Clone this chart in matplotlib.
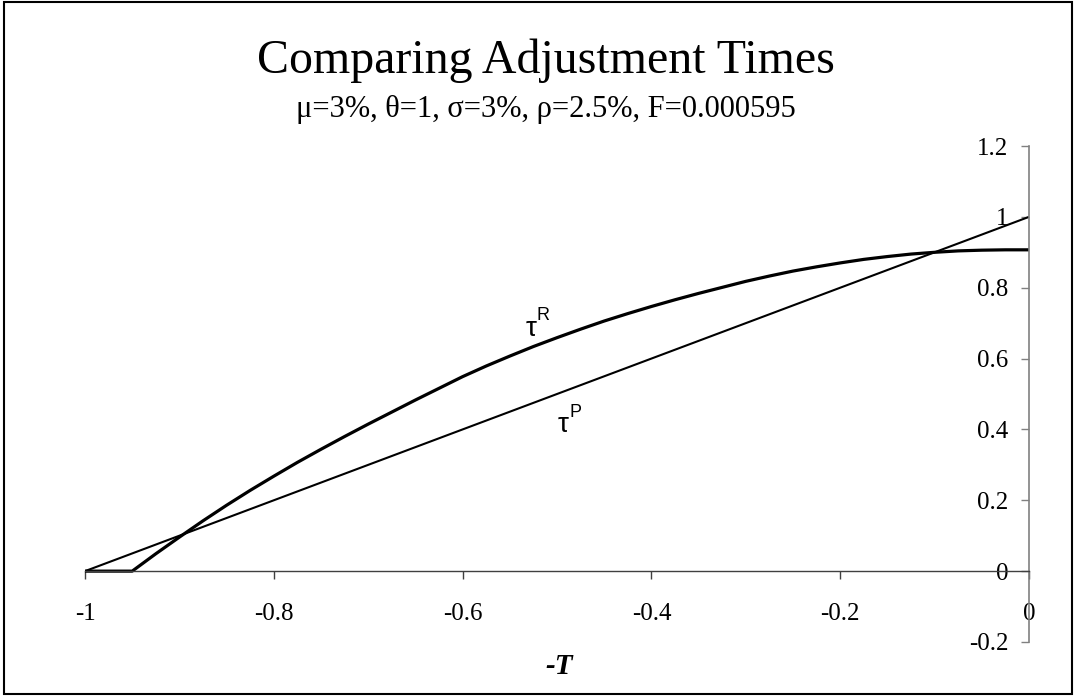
import matplotlib
matplotlib.use("Agg")
import matplotlib.pyplot as plt
from matplotlib.patches import Rectangle

plt.rcParams['font.family'] = ['Liberation Serif', 'DejaVu Serif']
plt.rcParams['axes.unicode_minus'] = False

# -T values (x) and the two adjustment-time curves
neg_T = [-1.000, -0.950, -0.925, -0.900, -0.875, -0.850, -0.825, -0.800, -0.775,
         -0.750, -0.725, -0.700, -0.675, -0.650, -0.625, -0.600, -0.575, -0.550,
         -0.525, -0.500, -0.475, -0.450, -0.425, -0.400, -0.375, -0.350, -0.325,
         -0.300, -0.275, -0.250, -0.225, -0.200, -0.175, -0.150, -0.125, -0.100,
         -0.075, -0.050, -0.025, 0.000]
tau_R = [0.000, 0.000, 0.049, 0.096, 0.142, 0.186, 0.228, 0.268, 0.307,
         0.344, 0.380, 0.415, 0.449, 0.483, 0.516, 0.549, 0.579, 0.607,
         0.634, 0.659, 0.683, 0.706, 0.727, 0.747, 0.766, 0.784, 0.801,
         0.818, 0.833, 0.847, 0.859, 0.870, 0.880, 0.888, 0.895, 0.900,
         0.904, 0.906, 0.907, 0.907]
tau_P_x = [-1.0, 0.0]
tau_P = [0.0, 1.0]

x_ticks = [-1, -0.8, -0.6, -0.4, -0.2, 0]
x_tick_labels = ['-1', '-0.8', '-0.6', '-0.4', '-0.2', '0']
y_ticks = [-0.2, 0, 0.2, 0.4, 0.6, 0.8, 1, 1.2]
y_tick_labels = ['-0.2', '0', '0.2', '0.4', '0.6', '0.8', '1', '1.2']

fig = plt.figure(figsize=(10.76, 6.96), dpi=100)
ax = fig.add_axes([0.0790, 0.0776, 0.8773, 0.7126])

ax.plot(neg_T, tau_R, color='black', lw=2.3, solid_joinstyle='round')
ax.plot(tau_P_x, tau_P, color='black', lw=1.5, solid_capstyle='butt')

ax.set_xlim(-1, 0)
ax.set_ylim(-0.2, 1.2)

# axes cross at the origin, excel style
ax.spines['top'].set_visible(False)
ax.spines['right'].set_visible(False)
ax.spines['bottom'].set_position(('data', 0))
ax.spines['left'].set_position(('data', 0))
ax.spines['bottom'].set_color('#404040')
ax.spines['left'].set_color('#808080')
ax.spines['bottom'].set_linewidth(1.0)
ax.spines['left'].set_linewidth(1.2)

ax.set_xticks(x_ticks)
ax.set_xticklabels(x_tick_labels)
ax.set_yticks(y_ticks)
ax.set_yticklabels(y_tick_labels)
ax.tick_params(axis='x', direction='out', length=6, width=1, color='#404040',
               pad=17, labelsize=18)
ax.tick_params(axis='y', direction='out', length=6, width=1, color='#808080',
               pad=9, labelsize=18)
for lab in ax.get_xticklabels() + ax.get_yticklabels():
    lab.set_zorder(5)

# curve labels
sans = ['Liberation Sans', 'DejaVu Sans']
ax.text(-0.5276, 0.684, 'τ', family=sans, fontsize=20, ha='center', va='center')
ax.text(-0.5150, 0.722, 'R', family=sans, fontsize=13, ha='center', va='center')
ax.text(-0.4936, 0.413, 'τ', family=sans, fontsize=20, ha='center', va='center')
ax.text(-0.4800, 0.448, 'P', family=sans, fontsize=13, ha='center', va='center')

fig.text(546 / 1076, 1 - 73 / 696, 'Comparing Adjustment Times',
         fontsize=34.5, ha='center', va='baseline')
fig.text(546 / 1076, 1 - 117 / 696, 'μ=3%, θ=1, σ=3%, ρ=2.5%, F=0.000595',
         fontsize=22, ha='center', va='baseline')
fig.text(559 / 1076, 1 - 667 / 696, '-T', fontsize=21, fontweight='bold',
         fontstyle='italic', ha='center', va='center')

# outer chart border
fig.patches.append(Rectangle((4 / 1076, 2 / 696), 1068 / 1076, 692 / 696,
                             transform=fig.transFigure, fill=False,
                             edgecolor='black', lw=1.5))

fig.savefig('out.png', dpi=100)
